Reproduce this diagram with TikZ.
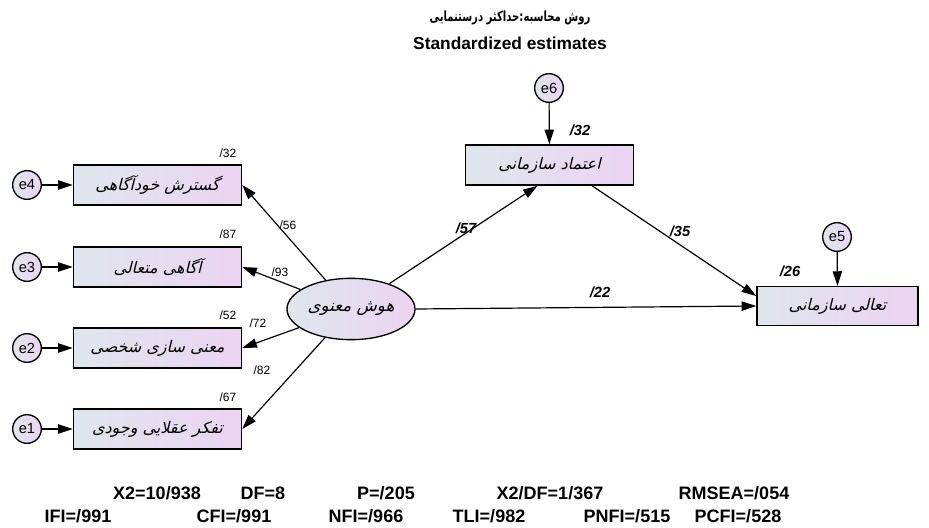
\documentclass[tikz,border=0pt]{standalone}
\usepackage{fontspec}
\usepackage{tikz}
\usetikzlibrary{shapes.geometric,arrows.meta}
\setmainfont{Liberation Sans}
\TeXXeTstate=1
\newfontfamily\arabicfont[Script=Arabic,FakeStretch=0.72]{DejaVu Sans}
\newfontfamily\arabicslant[Script=Arabic,FakeSlant=0.25]{DejaVu Sans}
\definecolor{fillleft}{HTML}{DEE6EC}
\definecolor{fillright}{HTML}{ECD4F3}
\tikzset{
  obsbox/.style={draw,line width=1.1pt,minimum width=126pt,minimum height=30pt,inner sep=0pt,
    left color=fillleft,right color=fillright,font=\arabicslant\fontsize{12}{14}\selectfont},
  latvar/.style={draw,ellipse,line width=1pt,minimum width=96pt,minimum height=46pt,inner sep=0pt,
    left color=fillleft,right color=fillright,font=\arabicslant\fontsize{12.5}{14}\selectfont},
  errvar/.style={draw,circle,line width=1pt,minimum size=21.5pt,inner sep=0pt,
    left color=fillleft,right color=fillright,font=\fontsize{11}{13}\selectfont},
  path/.style={line width=0.9pt,-{Triangle[length=11pt,width=7pt]}},
  smalllbl/.style={font=\fontsize{9}{11}\selectfont},
  coeflbl/.style={font=\fontsize{11}{13}\selectfont\bfseries\itshape},
  fitlbl/.style={font=\fontsize{13.5}{15}\selectfont\bfseries},
}

\begin{document}
\begin{tikzpicture}[x=0.75pt,y=-0.75pt]
\useasboundingbox (0,0) rectangle (929,528);
% title
\node[font=\arabicfont\bfseries\fontsize{10.5}{12}\selectfont] (title) at (510,18) {\beginR روش محاسبه:حداکثر درستنمایی\endR};
\node[font=\fontsize{13}{15}\selectfont\bfseries] (subtitle) at (510,43) {Standardized estimates};
% observed variables
\node[obsbox] (gostaresh) at (157.5,185) {\beginR گسترش خودآگاهی\endR};
\node[obsbox] (agahi) at (157.5,267) {\beginR آگاهی متعالی\endR};
\node[obsbox] (mani) at (157.5,348) {\beginR معنی سازی شخصی\endR};
\node[obsbox] (tafakor) at (157.5,429) {\beginR تفکر عقلایی وجودی\endR};
\node[obsbox] (etemad) at (549.5,165) {\beginR اعتماد سازمانی\endR};
\node[obsbox,minimum width=120.75pt,minimum height=29pt] (taali) at (837.5,306) {\beginR تعالی سازمانی\endR};
% latent
\node[latvar] (hoosh) at (351,309) {\beginR هوش معنوی\endR};
% errors
\node[errvar] (e4) at (27,185) {e4};
\node[errvar] (e3) at (27,267) {e3};
\node[errvar] (e2) at (27,348) {e2};
\node[errvar] (e1) at (27,429) {e1};
\node[errvar] (e6) at (549,88) {e6};
\node[errvar] (e5) at (837,237) {e5};
% paths
\draw[path] (e4) -- (gostaresh);
\draw[path] (e3) -- (agahi);
\draw[path] (e2) -- (mani);
\draw[path] (e1) -- (tafakor);
\draw[path] (e6) -- (etemad);
\draw[path] (e5) -- (taali.north);
\draw[path] (hoosh) -- (gostaresh.east);
\draw[path] (hoosh) -- (agahi.east);
\draw[path] (hoosh) -- (mani.east);
\draw[path] (hoosh) -- (tafakor.east);
\draw[path] (hoosh) -- (etemad.-120);
\draw[path] (etemad.-26) -- (taali.173);
\draw[path] (hoosh.east) -- (taali.west);
% estimates
\node[smalllbl] (r4) at (228,153) {\beginL/32\endL};
\node[smalllbl] (r3) at (228,234) {\beginL/87\endL};
\node[smalllbl] (r2) at (228,315) {\beginL/52\endL};
\node[smalllbl] (r1) at (228,397) {\beginL/67\endL};
\node[smalllbl] (l4) at (288,225) {\beginL/56\endL};
\node[smalllbl] (l3) at (280,272) {\beginL/93\endL};
\node[smalllbl] (l2) at (258,323) {\beginL/72\endL};
\node[smalllbl] (l1) at (262,370) {\beginL/82\endL};
\node[coeflbl] (c57) at (466,228) {/57};
\node[coeflbl] (c35) at (680,231) {/35};
\node[coeflbl] (c22) at (600,292) {/22};
\node[coeflbl] (c32) at (580,130) {/32};
\node[coeflbl] (c26) at (790,271) {/26};
% fit indices
\node[fitlbl] (chi) at (157,493) {X2=10/938};
\node[fitlbl] (df) at (263,493) {DF=8};
\node[fitlbl] (pval) at (386,493) {P=/205};
\node[fitlbl] (chidf) at (550,493) {X2/DF=1/367};
\node[fitlbl] (rmsea) at (734,493) {RMSEA=/054};
\node[fitlbl] (ifi) at (78,516) {IFI=/991};
\node[fitlbl] (cfi) at (234,516) {CFI=/991};
\node[fitlbl] (nfi) at (366,516) {NFI=/966};
\node[fitlbl] (tli) at (489,516) {TLI=/982};
\node[fitlbl] (pnfi) at (627,516) {PNFI=/515};
\node[fitlbl] (pcfi) at (738,516) {PCFI=/528};
\end{tikzpicture}
\end{document}
